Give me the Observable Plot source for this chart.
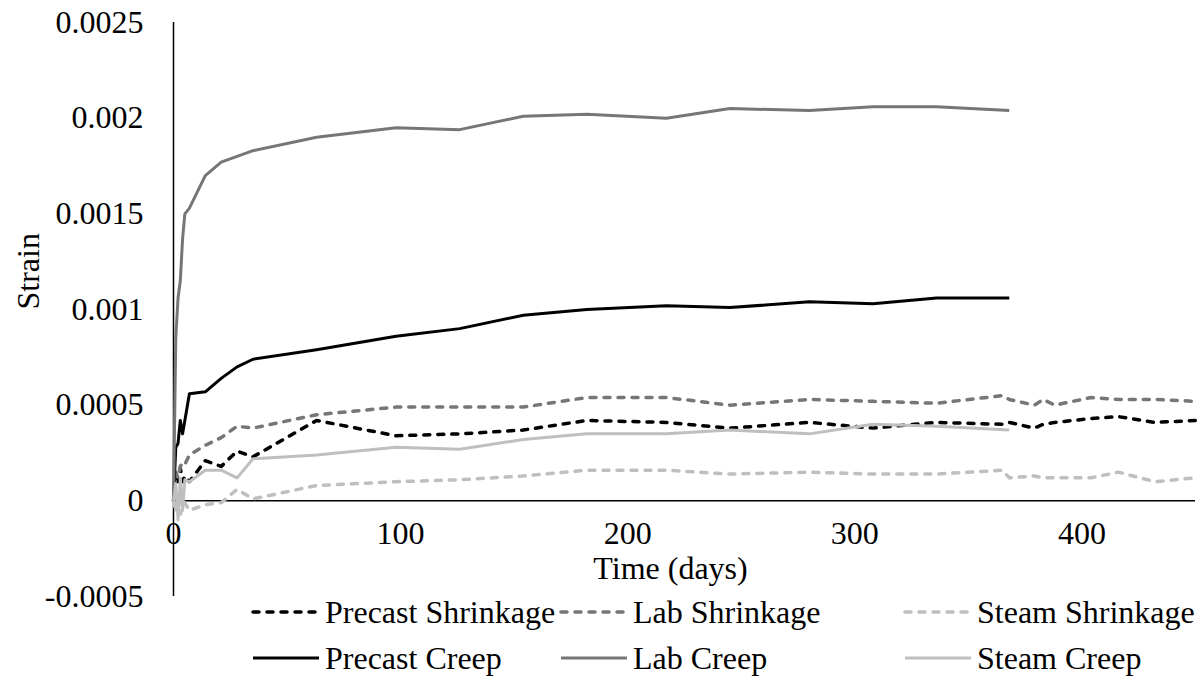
<!DOCTYPE html>
<html>
<head>
<meta charset="utf-8">
<script src="https://cdn.jsdelivr.net/npm/d3@7"></script>
<script src="https://cdn.jsdelivr.net/npm/@observablehq/plot@0.6"></script>
<style>
  body { margin: 0; background: #fff; }
  #chart { position: relative; width: 1198px; height: 686px; font-family: "Liberation Serif", "Times New Roman", serif; }
  .legend-item { position: absolute; display: flex; align-items: center; font-size: 32px; line-height: 1; color: #000; transform: translateY(-50%); white-space: nowrap; }
  .legend-item svg { margin-right: 3px; }
</style>
</head>
<body>
<div id="chart"></div>
<script>
// Measurement ages (days) for the creep specimens
const creepDays = [0, 1, 2, 3, 4, 5, 7, 14, 21, 28, 35, 63, 98, 126, 154, 182, 217, 245, 280, 308, 336, 368];
const precastCreep = [0, 0.00028, 0.0003, 0.00042, 0.00035, 0.00042, 0.00056, 0.00057, 0.00064, 0.0007, 0.00074, 0.00079, 0.00086, 0.0009, 0.00097, 0.001, 0.00102, 0.00101, 0.00104, 0.00103, 0.00106, 0.00106];
const labCreep = [0, 0.00085, 0.00106, 0.00115, 0.00137, 0.0015, 0.00153, 0.0017, 0.00177, 0.0018, 0.00183, 0.0019, 0.00195, 0.00194, 0.00201, 0.00202, 0.002, 0.00205, 0.00204, 0.00206, 0.00206, 0.00204];
const steamCreep = [0, 0.00009, -0.0001, 0.00012, -0.00005, 0.00011, 0.0001, 0.00016, 0.00016, 0.00012, 0.00022, 0.00024, 0.00028, 0.00027, 0.00032, 0.00035, 0.00035, 0.00037, 0.00035, 0.0004, 0.00039, 0.00037];

// Measurement ages (days) for the shrinkage specimens
const shrinkDays = [0, 1, 2, 3, 4, 5, 7, 14, 21, 28, 35, 63, 98, 126, 154, 182, 217, 245, 280, 308, 336, 365, 368, 379, 383, 388, 404, 416, 432, 450];
const precastShrink = [0, 0.00013, 0.0001, 0.00017, 0.0001, 0.00013, 0.0001, 0.00021, 0.00018, 0.00026, 0.00023, 0.00042, 0.00034, 0.00035, 0.00037, 0.00042, 0.00041, 0.00038, 0.00041, 0.00038, 0.00041, 0.0004, 0.00041, 0.00038, 0.0004, 0.00041, 0.00043, 0.00044, 0.00041, 0.00042];
const labShrink = [0, 0.00015, 0.00012, 0.00018, 0.0002, 0.00019, 0.00024, 0.00029, 0.00033, 0.00039, 0.00038, 0.00045, 0.00049, 0.00049, 0.00049, 0.00054, 0.00054, 0.0005, 0.00053, 0.00052, 0.00051, 0.00055, 0.00053, 0.0005, 0.00053, 0.0005, 0.00054, 0.00053, 0.00053, 0.00052];
const steamShrink = [0, -0.00006, 0.00002, -0.00007, -0.00003, -0.00001, -0.00005, -0.00002, -0.00001, 0.00006, 0.00001, 0.00008, 0.0001, 0.00011, 0.00013, 0.00016, 0.00016, 0.00014, 0.00015, 0.00014, 0.00014, 0.00016, 0.00012, 0.00013, 0.00012, 0.00012, 0.00012, 0.00015, 0.0001, 0.00012];

const seriesNames = ["Precast Shrinkage", "Lab Shrinkage", "Steam Shrinkage", "Precast Creep", "Lab Creep", "Steam Creep"];
const xTicks = [0, 100, 200, 300, 400];
const yTicks = [-0.0005, 0, 0.0005, 0.001, 0.0015, 0.002, 0.0025];

const BLACK = "#000000", GRAY = "#767676", LIGHT = "#bfbfbf";
const DASH = "6,8";

const toRows = (days, vals) => days.map((d, i) => ({ day: d, strain: vals[i] }));

const series = [
  { name: seriesNames[0], rows: toRows(shrinkDays, precastShrink), color: BLACK, dash: DASH },
  { name: seriesNames[1], rows: toRows(shrinkDays, labShrink), color: GRAY, dash: DASH },
  { name: seriesNames[2], rows: toRows(shrinkDays, steamShrink), color: LIGHT, dash: DASH },
  { name: seriesNames[3], rows: toRows(creepDays, precastCreep), color: BLACK, dash: null },
  { name: seriesNames[4], rows: toRows(creepDays, labCreep), color: GRAY, dash: null },
  { name: seriesNames[5], rows: toRows(creepDays, steamCreep), color: LIGHT, dash: null }
];

const FONT = '"Liberation Serif", "Times New Roman", serif';
const FS = 32;

const chart = Plot.plot({
  width: 1198,
  height: 686,
  marginLeft: 173,
  marginRight: 3,
  marginTop: 22,
  marginBottom: 90,
  x: { domain: [0, 450], axis: null },
  y: { domain: [-0.0005, 0.0025], axis: null },
  style: { fontFamily: FONT, fontSize: FS + "px", background: "#fff", color: "#000" },
  marks: [
    // axis lines crossing at the origin
    Plot.ruleX([0], { stroke: "#000", strokeWidth: 1.5 }),
    Plot.ruleY([0], { stroke: "#000", strokeWidth: 1.5 }),
    // tick labels: strain on the left, days just under the zero line
    Plot.text(yTicks, { y: d => d, frameAnchor: "left", dx: -30, textAnchor: "end", text: d => String(d), fontSize: FS }),
    Plot.text(xTicks, { x: d => d, y: 0, dy: 33, text: d => String(d), fontSize: FS }),
    // axis titles
    Plot.text(["Strain"], { frameAnchor: "left", rotate: -90, dx: -145, fontSize: FS }),
    Plot.text(["Time (days)"], { frameAnchor: "bottom", dx: -14, dy: -18, fontSize: FS }),
    ...series.map(s => Plot.line(s.rows, {
      x: "day", y: "strain", stroke: s.color, strokeWidth: s.dash ? 3.5 : 3,
      strokeDasharray: s.dash ?? undefined, strokeLinecap: s.dash ? "round" : "butt", strokeLinejoin: "round"
    }))
  ]
});

const host = document.getElementById("chart");
host.appendChild(chart);

// Legend in two rows under the time axis title
const colLeft = [250, 558, 902];
const rowTop = [612, 658];
series.forEach((s, i) => {
  const item = document.createElement("div");
  item.className = "legend-item";
  item.style.left = colLeft[i % 3] + "px";
  item.style.top = rowTop[Math.floor(i / 3)] + "px";
  const ns = "http://www.w3.org/2000/svg";
  const sw = document.createElementNS(ns, "svg");
  sw.setAttribute("width", 72);
  sw.setAttribute("height", 14);
  const ln = document.createElementNS(ns, "line");
  ln.setAttribute("x1", 3); ln.setAttribute("x2", 69);
  ln.setAttribute("y1", 7); ln.setAttribute("y2", 7);
  ln.setAttribute("stroke", s.color);
  ln.setAttribute("stroke-width", s.dash ? 3.5 : 3);
  if (s.dash) { ln.setAttribute("stroke-dasharray", s.dash); ln.setAttribute("stroke-linecap", "round"); }
  sw.appendChild(ln);
  item.appendChild(sw);
  const label = document.createElement("span");
  label.textContent = s.name;
  item.appendChild(label);
  host.appendChild(item);
});
</script>
</body>
</html>
